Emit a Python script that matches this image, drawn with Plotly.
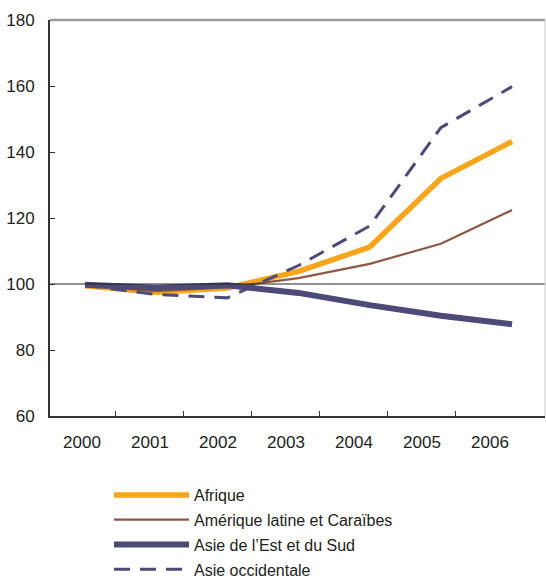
import plotly.graph_objects as go

years = [2000, 2001, 2002, 2003, 2004, 2005, 2006]
year_labels = [str(y) for y in years]

afrique = [99.5, 97.5, 98.8, 103.8, 111.2, 132.0, 143.2]
amerique = [99.5, 97.8, 99.0, 101.8, 106.1, 112.2, 122.4]
asie_est = [99.8, 98.9, 99.6, 97.3, 93.6, 90.4, 87.8]
asie_occ = [99.6, 96.8, 95.8, 105.6, 117.6, 147.4, 159.8]

BASE = 100

ORANGE = "#F7A51C"
BROWN = "#8C5A44"
PURPLE = "#4D4A77"

series = [
    ("Afrique", afrique, ORANGE, 5.5, "solid"),
    ("Amérique latine et Caraïbes", amerique, BROWN, 2.2, "solid"),
    ("Asie de l’Est et du Sud", asie_est, PURPLE, 6, "solid"),
    ("Asie occidentale", asie_occ, PURPLE, 3, "16px,10px"),
]

fig = go.Figure()

# empty trace anchoring the year-label axis so it is drawn
fig.add_trace(go.Scatter(x=list(range(len(years))), y=[None] * len(years),
                         mode="lines", showlegend=False, hoverinfo="skip"))

for i, (name, vals, color, width, dash) in enumerate(series):
    fig.add_trace(go.Scatter(
        x=years, y=vals, name=name, mode="lines",
        line=dict(color=color, width=width, dash=dash),
        xaxis="x2", legendgroup=f"g{i}",
    ))

# reference level 100 across the full plot width
fig.add_shape(type="line", xref="paper", yref="y", x0=0, x1=1, y0=BASE, y1=BASE,
              line=dict(color="#222222", width=1))

# frame: grey top edge, light right edge
fig.add_shape(type="line", xref="paper", yref="paper", x0=0, x1=1, y0=1, y1=1,
              line=dict(color="#9A9A9A", width=2.5))
fig.add_shape(type="line", xref="paper", yref="paper", x0=1, x1=1, y0=0, y1=1,
              line=dict(color="#C8C8C8", width=1))

tick_font = dict(family="Liberation Sans, Arial, sans-serif", size=17, color="#222222")

fig.update_layout(
    width=546, height=579,
    margin=dict(l=50, r=1, t=20, b=163, autoexpand=False),
    paper_bgcolor="white", plot_bgcolor="white",
    showlegend=True,
    legend=dict(
        x=109 / 546, xanchor="left", xref="container",
        y=1 - 478 / 579, yanchor="top", yref="container",
        font=dict(family="Liberation Sans, Arial, sans-serif", size=16, color="#222222"),
        itemwidth=75, tracegroupgap=1,
        bgcolor="rgba(0,0,0,0)",
    ),
    xaxis=dict(
        range=[-0.47, 6.81], tickmode="array",
        tickvals=list(range(len(years))), ticktext=year_labels,
        ticks="", showgrid=False, zeroline=False,
        showline=True, linecolor="#333333", linewidth=2,
        tickfont=tick_font, ticklabelstandoff=10,
        minor=dict(tickmode="array", tickvals=[i + 0.5 for i in range(6)],
                   ticks="inside", ticklen=5, tickcolor="#333333", tickwidth=1),
    ),
    xaxis2=dict(
        overlaying="x", range=[1999.508, 2006.463], visible=False,
    ),
    yaxis=dict(
        range=[60, 180], dtick=20, tick0=60,
        ticks="inside", ticklen=5, tickcolor="#333333",
        showgrid=False, zeroline=False,
        showline=True, linecolor="#333333", linewidth=2,
        tickfont=tick_font, ticklabelstandoff=10,
    ),
)

fig.write_html("out.html")
